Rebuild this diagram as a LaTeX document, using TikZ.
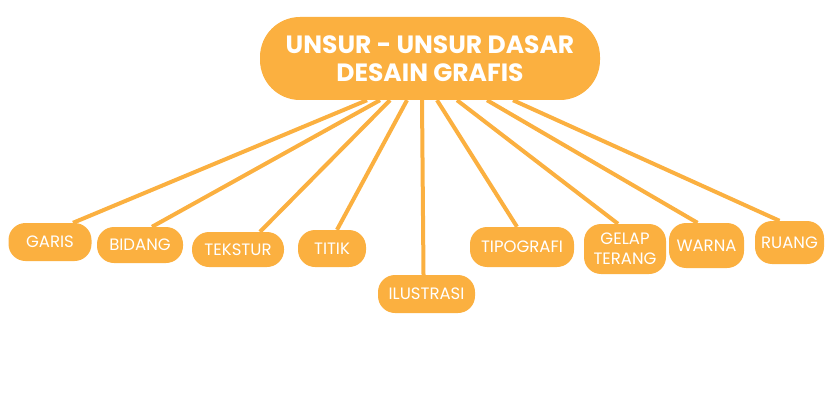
\documentclass[tikz,border=0pt]{standalone}
\usepackage{fontspec}
\setmainfont{Poppins}
\usepackage{xcolor}
\usetikzlibrary{positioning,calc}
\definecolor{orangebox}{HTML}{FBB040}

\begin{document}
\begin{tikzpicture}[x=1pt,y=-1pt,
    rootbox/.style={fill=orangebox, text=white, rounded corners=40pt, align=center,
        font=\fontsize{25}{28.5}\selectfont\bfseries, minimum width=340pt, minimum height=83pt, inner sep=0pt},
    leaf/.style={fill=orangebox, text=white, rounded corners=17pt, align=center,
        font=\fontsize{16.5}{20}\selectfont, inner sep=0pt},
    link/.style={draw=orangebox, line width=4pt}]
    \useasboundingbox (0,0) rectangle (834,417);

    % Root
    \node[rootbox] (root) at (430,58.5) {UNSUR - UNSUR DASAR\\DESAIN GRAFIS};

    % Leaves
    \foreach \name/\x/\y/\w/\h/\txt in {
        garis/50/242/83/38/GARIS,
        bidang/140/245/86/36/BIDANG,
        tekstur/238/249.5/92/35/TEKSTUR,
        titik/332/248.5/68/37/TITIK,
        ilustrasi/426.5/294/97/38/ILUSTRASI,
        tipografi/522/247/104/40/TIPOGRAFI,
        gelap/625/249/82/50/GELAP\\TERANG,
        warna/706.5/245.5/75/45/WARNA,
        ruang/789.5/242.5/69/43/RUANG} {
        \node[leaf, minimum width=\w pt, minimum height=\h pt] (\name) at (\x,\y) {\txt};
    }

    % Links
    \foreach \name/\s/\e in {garis/-63/23, bidang/-50/12, tekstur/-40/22, titik/-23/5,
        ilustrasi/-8/-3, tipografi/7/-5, gelap/27/-7, warna/57/-9, ruang/83/-10} {
        \draw[link] ([xshift=\s pt]root.south) -- ([xshift=\e pt]\name.north);
    }
\end{tikzpicture}
\end{document}
